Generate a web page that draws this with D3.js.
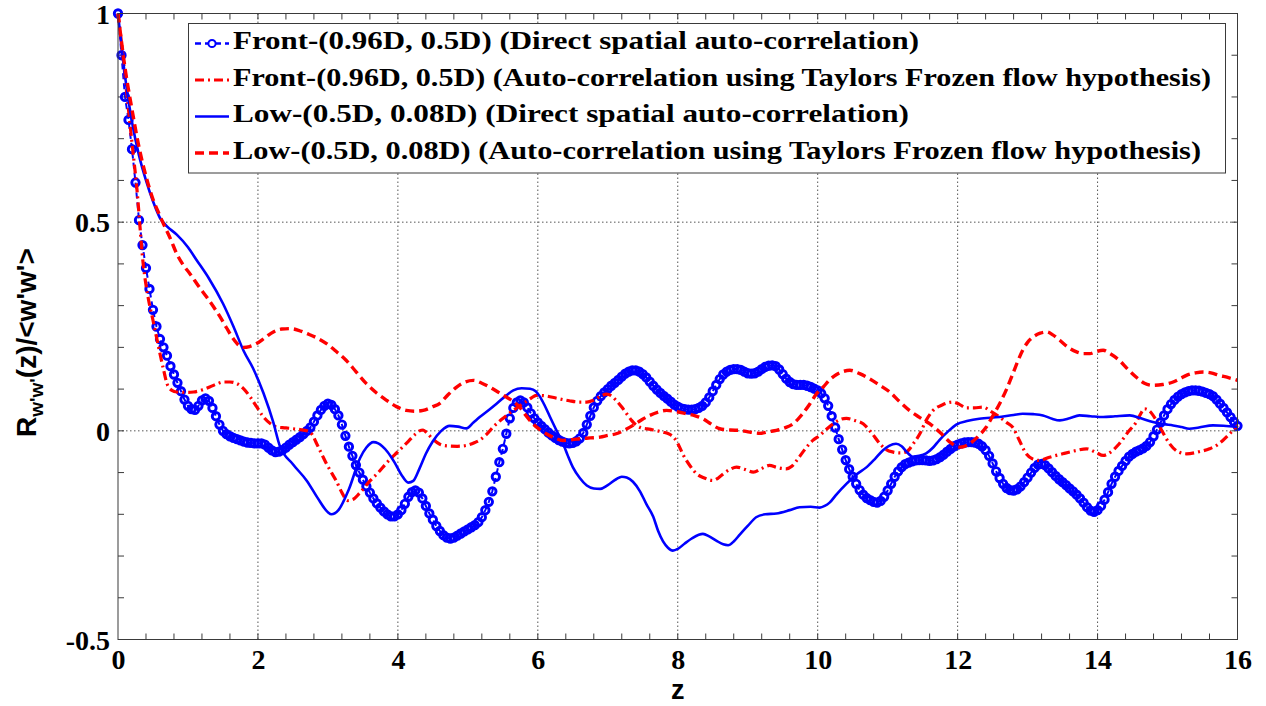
<!DOCTYPE html>
<html>
<head>
<meta charset="utf-8">
<script src="https://cdn.jsdelivr.net/npm/d3@7"></script>
<style>
  body { margin: 0; background: #fff; }
  svg { display: block; }
</style>
</head>
<body>
<svg id="chart" width="1266" height="706"></svg>
<script>
// ---- data -------------------------------------------------------------
// Front-(0.96D, 0.5D), direct spatial auto-correlation, sampled every zStep
const zStep = 0.05;
const frontDirect = [
  1.0, 0.9, 0.8, 0.745, 0.675, 0.595, 0.505, 0.445, 0.39, 0.34, 0.29, 0.25, 0.22, 0.2, 0.18, 0.155, 0.135, 0.115, 0.095, 0.075,
  0.06, 0.052, 0.05, 0.06, 0.073, 0.078, 0.072, 0.055, 0.035, 0.015, 0.0, -0.008, -0.013, -0.017, -0.02, -0.023, -0.026, -0.028, -0.029, -0.03,
  -0.03, -0.03, -0.033, -0.04, -0.047, -0.051, -0.05, -0.046, -0.04, -0.033, -0.027, -0.021, -0.015, -0.008, 0.0, 0.008, 0.022, 0.037, 0.05, 0.06,
  0.065, 0.062, 0.052, 0.037, 0.015, -0.012, -0.038, -0.06, -0.082, -0.1, -0.117, -0.133, -0.148, -0.162, -0.174, -0.184, -0.193, -0.2, -0.205, -0.205,
  -0.2, -0.19, -0.175, -0.158, -0.147, -0.143, -0.148, -0.162, -0.18, -0.198, -0.213, -0.228, -0.24, -0.25, -0.256, -0.258, -0.256, -0.251, -0.246, -0.241,
  -0.236, -0.231, -0.226, -0.219, -0.207, -0.19, -0.17, -0.145, -0.11, -0.075, -0.043, -0.007, 0.03, 0.055, 0.068, 0.073, 0.068, 0.056, 0.042, 0.03,
  0.02, 0.012, 0.004, -0.004, -0.011, -0.017, -0.022, -0.026, -0.029, -0.03, -0.029, -0.025, -0.018, -0.005, 0.015, 0.036, 0.056, 0.072, 0.083, 0.092,
  0.1, 0.108, 0.115, 0.122, 0.13, 0.137, 0.142, 0.145, 0.145, 0.142, 0.136, 0.128, 0.118, 0.108, 0.099, 0.091, 0.084, 0.077, 0.07, 0.063,
  0.058, 0.054, 0.052, 0.051, 0.051, 0.052, 0.055, 0.06, 0.068, 0.08, 0.095, 0.11, 0.124, 0.135, 0.142, 0.146, 0.148, 0.148, 0.146, 0.142,
  0.138, 0.137, 0.138, 0.142, 0.148, 0.153, 0.156, 0.157, 0.155, 0.147, 0.136, 0.125, 0.117, 0.112, 0.11, 0.11, 0.11, 0.108, 0.105, 0.101,
  0.097, 0.09, 0.078, 0.06, 0.035, 0.008, -0.02, -0.045, -0.07, -0.092, -0.11, -0.127, -0.142, -0.153, -0.161, -0.166, -0.17, -0.172, -0.168, -0.158,
  -0.143, -0.127, -0.11, -0.097, -0.087, -0.08, -0.076, -0.073, -0.071, -0.07, -0.07, -0.071, -0.072, -0.071, -0.068, -0.063, -0.057, -0.05, -0.043, -0.037,
  -0.033, -0.03, -0.028, -0.027, -0.027, -0.028, -0.031, -0.037, -0.046, -0.06, -0.078, -0.097, -0.113, -0.127, -0.137, -0.142, -0.143, -0.14, -0.133, -0.123,
  -0.112, -0.1, -0.089, -0.081, -0.079, -0.082, -0.09, -0.099, -0.108, -0.116, -0.123, -0.13, -0.138, -0.145, -0.153, -0.162, -0.172, -0.183, -0.191, -0.194,
  -0.19, -0.18, -0.165, -0.147, -0.127, -0.11, -0.096, -0.084, -0.072, -0.062, -0.055, -0.05, -0.046, -0.042, -0.036, -0.027, -0.013, 0.003, 0.02, 0.037,
  0.052, 0.064, 0.074, 0.082, 0.088, 0.092, 0.095, 0.097, 0.097, 0.096, 0.094, 0.091, 0.088, 0.083, 0.075, 0.065, 0.055, 0.044, 0.033, 0.022,
  0.012
];

// Front-(0.96D, 0.5D), Taylor frozen-flow estimate
const frontTaylorZ = [0, 0.05, 0.1, 0.15, 0.2, 0.27, 0.36, 0.43, 0.5, 0.6, 0.66, 0.7, 0.77, 0.84, 1.0, 1.08, 1.2, 1.31, 1.42, 1.5, 1.6, 1.7, 1.8, 1.89, 2.0, 2.08, 2.18, 2.27, 2.4, 2.5, 2.6, 2.7, 2.78, 2.84, 2.91, 2.98, 3.05, 3.12, 3.2, 3.28, 3.35, 3.45, 3.6, 3.72, 3.85, 3.95, 4.03, 4.15, 4.25, 4.31, 4.36, 4.42, 4.5, 4.6, 4.7, 4.85, 4.98, 5.1, 5.17, 5.27, 5.36, 5.48, 5.6, 5.7, 5.79, 5.9, 5.98, 6.1, 6.27, 6.45, 6.6, 6.7, 6.79, 6.9, 6.98, 7.05, 7.12, 7.2, 7.27, 7.34, 7.41, 7.48, 7.55, 7.65, 7.79, 7.88, 7.95, 8.0, 8.08, 8.18, 8.27, 8.38, 8.5, 8.58, 8.65, 8.75, 8.84, 8.95, 9.08, 9.2, 9.31, 9.42, 9.55, 9.63, 9.7, 9.8, 9.93, 10.03, 10.12, 10.22, 10.32, 10.41, 10.53, 10.65, 10.77, 10.89, 10.98, 11.08, 11.18, 11.27, 11.37, 11.46, 11.55, 11.65, 11.78, 11.93, 12.02, 12.12, 12.24, 12.36, 12.48, 12.6, 12.7, 12.79, 12.88, 12.98, 13.08, 13.17, 13.3, 13.5, 13.7, 13.84, 13.98, 14.08, 14.15, 14.31, 14.45, 14.55, 14.62, 14.67, 14.74, 14.84, 14.93, 15.03, 15.15, 15.27, 15.45, 15.6, 15.7, 15.79, 15.9, 16.0];
const frontTaylor  = [1.0, 0.93, 0.85, 0.77, 0.69, 0.58, 0.4, 0.32, 0.265, 0.185, 0.14, 0.113, 0.097, 0.093, 0.092, 0.093, 0.098, 0.105, 0.113, 0.117, 0.117, 0.113, 0.1, 0.081, 0.053, 0.033, 0.017, 0.009, 0.007, 0.005, 0.003, 0.0, -0.01, -0.031, -0.055, -0.079, -0.1, -0.12, -0.148, -0.167, -0.165, -0.15, -0.12, -0.1, -0.075, -0.058, -0.045, -0.025, -0.008, 0.0, 0.002, -0.006, -0.02, -0.032, -0.036, -0.037, -0.035, -0.028, -0.022, -0.008, 0.009, 0.027, 0.043, 0.055, 0.065, 0.078, 0.085, 0.084, 0.078, 0.072, 0.069, 0.069, 0.073, 0.083, 0.088, 0.084, 0.073, 0.057, 0.041, 0.025, 0.013, 0.007, 0.005, 0.002, -0.003, -0.008, -0.017, -0.03, -0.058, -0.085, -0.103, -0.113, -0.119, -0.113, -0.103, -0.092, -0.087, -0.092, -0.099, -0.09, -0.083, -0.088, -0.091, -0.085, -0.071, -0.048, -0.023, -0.011, 0.003, 0.017, 0.027, 0.03, 0.025, 0.017, -0.005, -0.031, -0.045, -0.051, -0.053, -0.05, -0.03, -0.007, 0.025, 0.049, 0.062, 0.069, 0.064, 0.055, 0.055, 0.057, 0.046, 0.033, 0.02, 0.008, -0.022, -0.055, -0.068, -0.071, -0.064, -0.055, -0.047, -0.043, -0.052, -0.059, -0.055, -0.031, 0.0, 0.02, 0.042, 0.053, 0.048, 0.025, -0.003, -0.031, -0.05, -0.055, -0.05, -0.043, -0.035, -0.023, -0.005, 0.013];

// Low-(0.5D, 0.08D), direct spatial auto-correlation
const lowDirectZ = [0, 0.1, 0.2, 0.3, 0.4, 0.5, 0.6, 0.7, 0.84, 1.0, 1.12, 1.3, 1.5, 1.65, 1.8, 1.93, 2.08, 2.22, 2.31, 2.5, 2.7, 2.85, 3.0, 3.05, 3.15, 3.3, 3.46, 3.55, 3.65, 3.72, 3.85, 3.95, 4.05, 4.15, 4.22, 4.31, 4.4, 4.5, 4.62, 4.74, 4.86, 4.98, 5.08, 5.17, 5.3, 5.41, 5.55, 5.65, 5.77, 5.89, 5.97, 6.03, 6.1, 6.17, 6.27, 6.36, 6.43, 6.5, 6.6, 6.7, 6.8, 6.89, 7.0, 7.12, 7.2, 7.27, 7.36, 7.46, 7.55, 7.65, 7.72, 7.79, 7.86, 7.93, 8.0, 8.1, 8.2, 8.3, 8.36, 8.45, 8.55, 8.65, 8.72, 8.8, 8.89, 9.0, 9.12, 9.25, 9.41, 9.6, 9.74, 9.9, 10.03, 10.1, 10.17, 10.27, 10.41, 10.55, 10.7, 10.82, 10.93, 11.02, 11.12, 11.2, 11.28, 11.36, 11.45, 11.55, 11.65, 11.74, 11.86, 11.98, 12.15, 12.31, 12.6, 12.8, 12.93, 13.08, 13.22, 13.35, 13.46, 13.6, 13.74, 13.9, 14.08, 14.25, 14.46, 14.62, 14.79, 14.95, 15.08, 15.2, 15.31, 15.45, 15.65, 15.8, 16.0];
const lowDirect  = [1.0, 0.85, 0.74, 0.66, 0.6, 0.55, 0.51, 0.49, 0.47, 0.44, 0.41, 0.365, 0.305, 0.25, 0.19, 0.15, 0.09, 0.02, -0.035, -0.08, -0.12, -0.16, -0.195, -0.2, -0.19, -0.14, -0.065, -0.04, -0.027, -0.03, -0.05, -0.075, -0.105, -0.124, -0.12, -0.09, -0.055, -0.025, 0.0, 0.012, 0.01, 0.006, 0.02, 0.033, 0.05, 0.065, 0.085, 0.097, 0.102, 0.101, 0.095, 0.082, 0.06, 0.035, 0.0, -0.03, -0.06, -0.087, -0.113, -0.131, -0.138, -0.139, -0.13, -0.116, -0.11, -0.112, -0.122, -0.145, -0.175, -0.206, -0.24, -0.265, -0.28, -0.287, -0.283, -0.27, -0.258, -0.249, -0.247, -0.253, -0.263, -0.272, -0.274, -0.265, -0.248, -0.228, -0.207, -0.2, -0.198, -0.19, -0.183, -0.182, -0.184, -0.18, -0.172, -0.152, -0.127, -0.105, -0.087, -0.067, -0.047, -0.036, -0.031, -0.037, -0.052, -0.062, -0.06, -0.054, -0.04, -0.022, -0.002, 0.015, 0.024, 0.029, 0.033, 0.038, 0.041, 0.04, 0.037, 0.029, 0.025, 0.03, 0.037, 0.035, 0.033, 0.035, 0.037, 0.03, 0.021, 0.016, 0.013, 0.009, 0.005, 0.008, 0.013, 0.012, 0.009];

// Low-(0.5D, 0.08D), Taylor frozen-flow estimate
const lowTaylorZ = [0, 0.1, 0.2, 0.3, 0.4, 0.5, 0.6, 0.65, 0.75, 0.84, 0.93, 1.03, 1.15, 1.27, 1.37, 1.46, 1.55, 1.65, 1.72, 1.79, 1.88, 1.98, 2.1, 2.22, 2.34, 2.46, 2.58, 2.7, 2.85, 2.98, 3.12, 3.26, 3.4, 3.55, 3.7, 3.84, 3.98, 4.12, 4.25, 4.36, 4.5, 4.6, 4.72, 4.84, 4.96, 5.08, 5.2, 5.31, 5.43, 5.55, 5.65, 5.74, 5.83, 5.93, 6.02, 6.12, 6.24, 6.36, 6.5, 6.6, 6.75, 6.89, 7.0, 7.12, 7.25, 7.36, 7.48, 7.6, 7.72, 7.84, 7.98, 8.12, 8.25, 8.36, 8.48, 8.6, 8.75, 8.89, 9.03, 9.17, 9.3, 9.41, 9.53, 9.65, 9.77, 9.89, 9.98, 10.08, 10.17, 10.27, 10.36, 10.46, 10.6, 10.74, 10.88, 11.03, 11.17, 11.31, 11.45, 11.6, 11.75, 11.89, 12.03, 12.1, 12.17, 12.3, 12.41, 12.5, 12.6, 12.7, 12.79, 12.86, 12.93, 13.0, 13.08, 13.18, 13.27, 13.36, 13.46, 13.58, 13.7, 13.8, 13.89, 13.98, 14.08, 14.18, 14.31, 14.43, 14.55, 14.67, 14.79, 14.93, 15.08, 15.18, 15.27, 15.4, 15.51, 15.62, 15.74, 15.86, 16.0];
const lowTaylor  = [1.0, 0.87, 0.77, 0.68, 0.61, 0.555, 0.515, 0.496, 0.46, 0.424, 0.398, 0.376, 0.347, 0.32, 0.296, 0.273, 0.247, 0.22, 0.206, 0.2, 0.202, 0.209, 0.223, 0.237, 0.244, 0.245, 0.241, 0.233, 0.222, 0.209, 0.19, 0.169, 0.142, 0.113, 0.09, 0.073, 0.058, 0.049, 0.047, 0.049, 0.058, 0.066, 0.087, 0.105, 0.117, 0.121, 0.114, 0.105, 0.093, 0.081, 0.07, 0.057, 0.037, 0.017, 0.004, -0.007, -0.017, -0.023, -0.021, -0.019, -0.017, -0.015, -0.011, -0.007, 0.003, 0.013, 0.026, 0.037, 0.045, 0.049, 0.046, 0.041, 0.036, 0.029, 0.016, 0.005, 0.002, 0.001, -0.003, -0.006, -0.002, 0.001, 0.007, 0.017, 0.038, 0.065, 0.088, 0.105, 0.122, 0.135, 0.142, 0.145, 0.137, 0.125, 0.11, 0.093, 0.07, 0.049, 0.033, 0.017, -0.004, -0.027, -0.039, -0.037, -0.031, -0.012, 0.009, 0.035, 0.065, 0.1, 0.137, 0.167, 0.193, 0.212, 0.225, 0.234, 0.237, 0.23, 0.217, 0.2, 0.189, 0.185, 0.185, 0.19, 0.193, 0.185, 0.169, 0.148, 0.129, 0.114, 0.109, 0.111, 0.117, 0.125, 0.133, 0.139, 0.141, 0.139, 0.133, 0.128, 0.121];

const xTickValues = [0, 2, 4, 6, 8, 10, 12, 14, 16];
const yTickValues = [-0.5, 0, 0.5, 1];
const yTickLabels = ["-0.5", "0", "0.5", "1"];
const legendLabels = [
  "Front-(0.96D, 0.5D) (Direct spatial auto-correlation)",
  "Front-(0.96D, 0.5D) (Auto-correlation using Taylors Frozen flow hypothesis)",
  "Low-(0.5D, 0.08D) (Direct spatial auto-correlation)",
  "Low-(0.5D, 0.08D) (Auto-correlation using Taylors Frozen flow hypothesis)"
];

// ---- layout -----------------------------------------------------------
const svg = d3.select("#chart");
const plotL = 118, plotR = 1237.5, plotT = 13.5, plotB = 639.5;
const x = d3.scaleLinear().domain([0, 16]).range([plotL, plotR]);
const y = d3.scaleLinear().domain([-0.5, 1]).range([plotB, plotT]);

const serif = "'Liberation Serif', 'Times New Roman', serif";
const sans = "'Liberation Sans', Arial, sans-serif";
const axisColor = "#3a3a3a";

// grid (dotted)
const grid = svg.append("g");
grid.selectAll("line.vx").data(xTickValues.slice(1, -1)).join("line")
  .attr("x1", d => x(d)).attr("x2", d => x(d)).attr("y1", plotT).attr("y2", plotB)
  .attr("stroke", "#555").attr("stroke-width", 1).attr("stroke-dasharray", "1.5,2.5");
grid.selectAll("line.hy").data([0, 0.5]).join("line")
  .attr("x1", plotL).attr("x2", plotR).attr("y1", d => y(d)).attr("y2", d => y(d))
  .attr("stroke", "#555").attr("stroke-width", 1).attr("stroke-dasharray", "1.5,2.5");

// axes with inward ticks on all four sides
const minorX = d3.range(0, 40).map(i => i * 0.4).filter(v => v > 0 && v < 16);
const minorY = d3.range(-5, 10).map(i => i / 10);
const tickLen = 6;
const axisG = svg.append("g").attr("fill", "none").attr("stroke", axisColor).attr("stroke-width", 1);
axisG.selectAll("line.bx").data(minorX).join("line")
  .attr("x1", d => x(d)).attr("x2", d => x(d)).attr("y1", plotB).attr("y2", plotB - tickLen);
axisG.selectAll("line.tx").data(minorX).join("line")
  .attr("x1", d => x(d)).attr("x2", d => x(d)).attr("y1", plotT).attr("y2", plotT + tickLen);
axisG.selectAll("line.ly").data(minorY).join("line")
  .attr("x1", plotL).attr("x2", plotL + tickLen).attr("y1", d => y(d)).attr("y2", d => y(d));
axisG.selectAll("line.ry").data(minorY).join("line")
  .attr("x1", plotR).attr("x2", plotR - tickLen).attr("y1", d => y(d)).attr("y2", d => y(d));

// tick labels through d3 axes
const xAxis = d3.axisBottom(x).tickValues(xTickValues).tickSize(0).tickPadding(10).tickFormat(d3.format("d"));
const gx = svg.append("g").attr("transform", `translate(0,${plotB})`).call(xAxis);
gx.select(".domain").remove();
gx.selectAll("text").attr("font-family", serif).attr("font-weight", "bold")
  .attr("font-size", 28).attr("fill", "#000").attr("dy", "0.71em");

const yAxis = d3.axisLeft(y).tickValues(yTickValues).tickSize(0).tickPadding(8)
  .tickFormat((d, i) => yTickLabels[i]);
const gy = svg.append("g").attr("transform", `translate(${plotL},0)`).call(yAxis);
gy.select(".domain").remove();
gy.selectAll("text").attr("font-family", serif).attr("font-weight", "bold")
  .attr("font-size", 28).attr("fill", "#000").attr("dy", "0.34em");

// axis titles
svg.append("text")
  .attr("x", x(8)).attr("y", 699)
  .attr("text-anchor", "middle")
  .attr("font-family", sans).attr("font-weight", "bold").attr("font-size", 27)
  .text("z");

const yTitle = svg.append("text")
  .attr("transform", "translate(36,437) rotate(-90)")
  .attr("font-family", sans).attr("font-weight", "bold").attr("font-size", 28);
yTitle.append("tspan").text("R");
yTitle.append("tspan").attr("font-size", 19).attr("dy", 7).text("w'w'");
yTitle.append("tspan").attr("dy", -7).text("(z)/<w'w'>");

// ---- series -----------------------------------------------------------
const clipId = "plot-clip";
svg.append("defs").append("clipPath").attr("id", clipId)
  .append("rect").attr("x", plotL - 6).attr("y", plotT - 6)
  .attr("width", plotR - plotL + 12).attr("height", plotB - plotT + 12);
const plot = svg.append("g").attr("clip-path", `url(#${clipId})`);

const frontDirectPts = frontDirect.map((v, i) => [i * zStep, v]);
const frontTaylorPts = frontTaylorZ.map((z, i) => [z, frontTaylor[i]]);
const lowDirectPts = lowDirectZ.map((z, i) => [z, lowDirect[i]]);
const lowTaylorPts = lowTaylorZ.map((z, i) => [z, lowTaylor[i]]);

const lineLin = d3.line().x(d => x(d[0])).y(d => y(d[1]));
const lineSmooth = d3.line().x(d => x(d[0])).y(d => y(d[1])).curve(d3.curveMonotoneX);

const styles = {
  frontDirect: { color: "#0000ff", width: 2, dash: "6,4" },
  frontTaylor: { color: "#ff0000", width: 3.2, dash: "9,4,2,4" },
  lowDirect:   { color: "#0000ff", width: 2.6, dash: null },
  lowTaylor:   { color: "#ff0000", width: 3.4, dash: "9,5" }
};

// Front direct: dashed line with open circle markers
plot.append("path").datum(frontDirectPts)
  .attr("d", lineLin).attr("fill", "none")
  .attr("stroke", styles.frontDirect.color).attr("stroke-width", styles.frontDirect.width)
  .attr("stroke-dasharray", styles.frontDirect.dash);
plot.append("g").selectAll("circle").data(frontDirectPts).join("circle")
  .attr("cx", d => x(d[0])).attr("cy", d => y(d[1])).attr("r", 3.7)
  .attr("fill", "none").attr("stroke", "#0000ff").attr("stroke-width", 2.9);

plot.append("path").datum(frontTaylorPts)
  .attr("d", lineSmooth).attr("fill", "none")
  .attr("stroke", styles.frontTaylor.color).attr("stroke-width", styles.frontTaylor.width)
  .attr("stroke-dasharray", styles.frontTaylor.dash);

plot.append("path").datum(lowDirectPts)
  .attr("d", lineSmooth).attr("fill", "none")
  .attr("stroke", styles.lowDirect.color).attr("stroke-width", styles.lowDirect.width);

plot.append("path").datum(lowTaylorPts)
  .attr("d", lineSmooth).attr("fill", "none")
  .attr("stroke", styles.lowTaylor.color).attr("stroke-width", styles.lowTaylor.width)
  .attr("stroke-dasharray", styles.lowTaylor.dash);

// frame
svg.append("rect").attr("x", plotL).attr("y", plotT)
  .attr("width", plotR - plotL).attr("height", plotB - plotT)
  .attr("fill", "none").attr("stroke", axisColor).attr("stroke-width", 1);

// ---- legend -----------------------------------------------------------
const lg = svg.append("g");
lg.append("rect").attr("x", 188.5).attr("y", 23.5).attr("width", 1037).attr("height", 149.5)
  .attr("fill", "#fff").attr("stroke", axisColor).attr("stroke-width", 1);
const keys = ["frontDirect", "frontTaylor", "lowDirect", "lowTaylor"];
const rowLineY = [43.5, 80, 116.5, 153];
const rowBase = [49, 85.5, 122, 158.5];
const rowWidth = [686, 978, 676, 968];
keys.forEach((k, i) => {
  const s = styles[k];
  lg.append("line").attr("x1", 195).attr("x2", 229).attr("y1", rowLineY[i]).attr("y2", rowLineY[i])
    .attr("stroke", s.color).attr("stroke-width", k === "frontDirect" ? 2.5 : s.width)
    .attr("stroke-dasharray", s.dash);
  if (k === "frontDirect") {
    lg.append("circle").attr("cx", 212).attr("cy", rowLineY[i]).attr("r", 3.6)
      .attr("fill", "#fff").attr("stroke", s.color).attr("stroke-width", 2);
  }
  lg.append("text").attr("x", 233).attr("y", rowBase[i])
    .attr("font-family", serif).attr("font-weight", "bold").attr("font-size", 26)
    .attr("textLength", rowWidth[i]).attr("lengthAdjust", "spacingAndGlyphs")
    .text(legendLabels[i]);
});
</script>
</body>
</html>
